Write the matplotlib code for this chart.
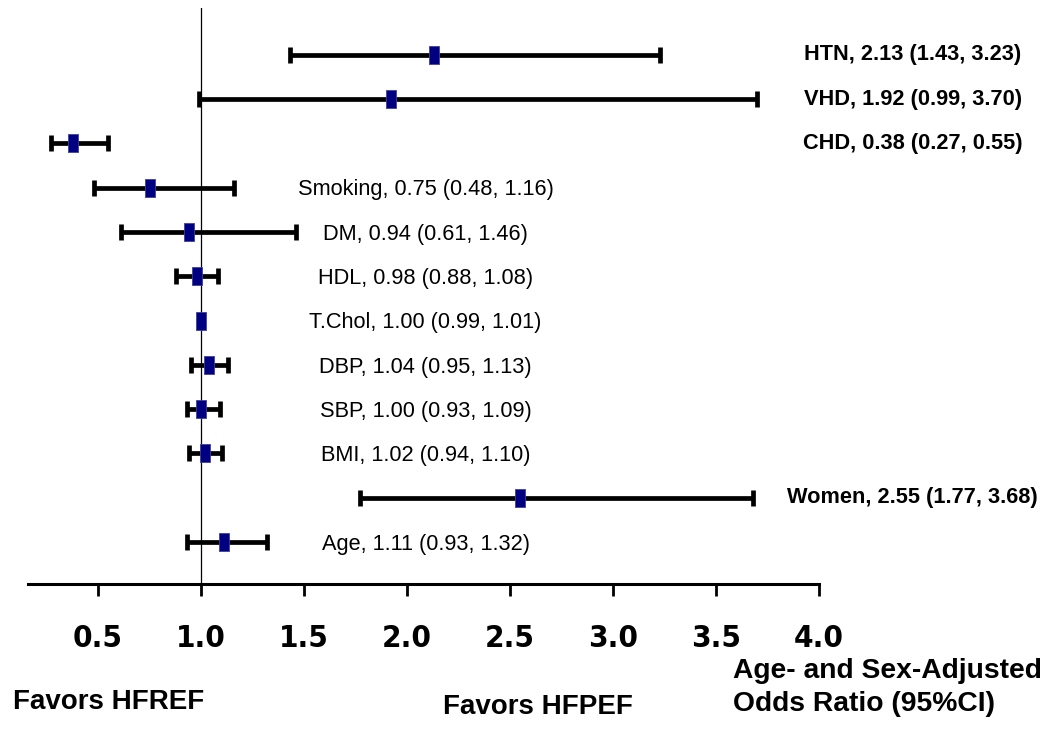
import matplotlib
matplotlib.use("Agg")
import matplotlib.pyplot as plt
import numpy as np

# factors, top to bottom
factors = ['HTN', 'VHD', 'CHD', 'Smoking', 'DM', 'HDL', 'T.Chol', 'DBP', 'SBP', 'BMI', 'Women', 'Age']
odds = [2.13, 1.92, 0.38, 0.75, 0.94, 0.98, 1.00, 1.04, 1.00, 1.02, 2.55, 1.11]
ci_low = [1.43, 0.99, 0.27, 0.48, 0.61, 0.88, 0.99, 0.95, 0.93, 0.94, 1.77, 0.93]
ci_high = [3.23, 3.70, 0.55, 1.16, 1.46, 1.08, 1.01, 1.13, 1.09, 1.10, 3.68, 1.32]
significant = [True, True, True, False, False, False, False, False, False, False, True, False]
xticks = [0.5, 1.0, 1.5, 2.0, 2.5, 3.0, 3.5, 4.0]

plt.rcParams['font.family'] = ['Liberation Sans', 'DejaVu Sans']

fig = plt.figure(figsize=(10.5, 7.55), dpi=100)
ax = fig.add_axes([0.0267, 0.2265, 0.7533, 0.7629])

n = len(factors)
y = np.arange(n, 0, -1)
odds = np.array(odds)
lo = odds - np.array(ci_low)
hi = np.array(ci_high) - odds

ax.axvline(1.0, color='black', lw=0.9, zorder=1)
ax.errorbar(odds, y, xerr=[lo, hi], fmt='none', ecolor='black', elinewidth=3.4,
            capsize=6, capthick=3.4, zorder=2)
rect = [(-0.3, -0.5), (0.3, -0.5), (0.3, 0.5), (-0.3, 0.5), (-0.3, -0.5)]
ax.plot(odds, y, ls='none', marker=rect, markersize=12.5, markerfacecolor='#000080',
        markeredgecolor='#4040a0', markeredgewidth=0.6, zorder=3)

for yi, f, o, l, h, s in zip(y, factors, odds, ci_low, ci_high, significant):
    txt = '%s, %.2f (%.2f, %.2f)' % (f, o, l, h)
    if s:
        ax.text(4.455, yi, txt, ha='center', va='center', fontsize=15.7,
                fontweight='bold', clip_on=False)
    else:
        ax.text(2.09, yi - 0.05, txt, ha='center', va='center', fontsize=15.7)

ax.set_xlim(0.16, 4.0)
ax.set_ylim(0.051, 13.06)
for sp in ['top', 'right', 'left']:
    ax.spines[sp].set_visible(False)
ax.spines['bottom'].set_linewidth(2.2)
ax.set_yticks([])
ax.set_xticks(xticks)
ax.set_xticklabels(['%.1f' % t for t in xticks], family='DejaVu Sans',
                   fontstretch='condensed', fontweight='bold', fontsize=22.5)
ax.tick_params(axis='x', direction='out', length=8.6, width=2, pad=20)

fig.text(13 / 1050, 1 - 702 / 755, 'Favors HFREF', ha='left', va='center',
         fontsize=20, fontweight='bold')
fig.text(443 / 1050, 1 - 707 / 755, 'Favors HFPEF', ha='left', va='center',
         fontsize=20, fontweight='bold')
fig.text(733 / 1050, 1 - 671 / 755, 'Age- and Sex-Adjusted',
         ha='left', va='center', fontsize=20.3, fontweight='bold')
fig.text(733 / 1050, 1 - 704 / 755, 'Odds Ratio (95%CI)',
         ha='left', va='center', fontsize=20.3, fontweight='bold')

fig.savefig('out.png', dpi=100)
